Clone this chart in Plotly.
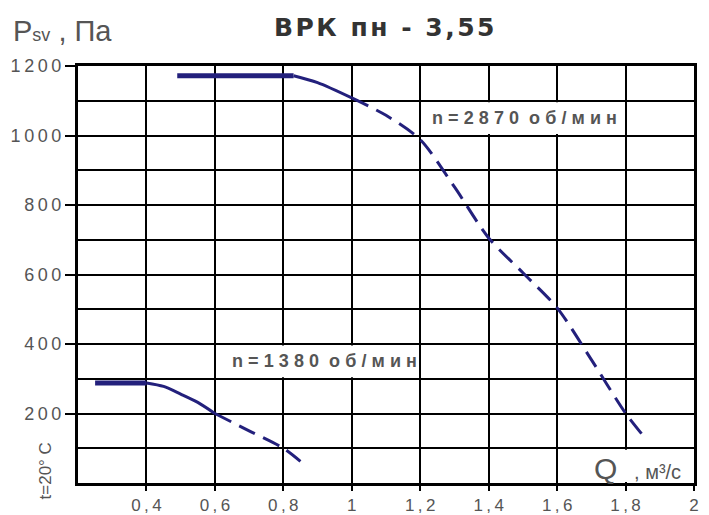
import plotly.graph_objects as go

# ---- data ----
q_hi_flat = [0.49, 0.83]
p_hi_flat = [1172, 1172]
q_hi_solid = [0.83, 0.9, 1.0]
p_hi_solid = [1172, 1152, 1108]
q_hi_dash = [1.0, 1.1, 1.2, 1.3, 1.4, 1.5, 1.6, 1.7, 1.8, 1.85]
p_hi_dash = [1108, 1058, 988, 852, 705, 605, 504, 355, 201, 138]

q_lo_flat = [0.25, 0.40]
p_lo_flat = [288, 288]
q_lo_solid = [0.40, 0.45, 0.5, 0.55, 0.6]
p_lo_solid = [288, 278, 256, 232, 200]
q_lo_dash = [0.6, 0.7, 0.8, 0.85]
p_lo_dash = [200, 150, 100, 62]

x_tickvals = [0.4, 0.6, 0.8, 1.0, 1.2, 1.4, 1.6, 1.8, 2.0]
x_ticktext = ["0,4", "0,6", "0,8", "1", "1,2", "1,4", "1,6", "1,8", "2"]
y_tickvals = [200, 400, 600, 800, 1000, 1200]
y_ticktext = ["200", "400", "600", "800", "1000", "1200"]

line_color = "#23207c"
grey = "#555555"
TS = "\u2009"  # thin space, used as letter spacing
HS = "\u200a"  # hair space


def spaced(s, gap=TS):
    return gap.join(s)


fig = go.Figure()
for qx, py, w, dash in [
    (q_hi_flat, p_hi_flat, 5, "solid"),
    (q_hi_solid, p_hi_solid, 3, "solid"),
    (q_hi_dash, p_hi_dash, 3, "18px,9px"),
    (q_lo_flat, p_lo_flat, 5, "solid"),
    (q_lo_solid, p_lo_solid, 3, "solid"),
    (q_lo_dash, p_lo_dash, 3, "18px,9px"),
]:
    fig.add_trace(go.Scatter(x=qx, y=py, mode="lines",
                             line=dict(color=line_color, width=w, dash=dash,
                                       shape="spline", smoothing=0.8),
                             showlegend=False, hoverinfo="skip"))

fig.update_layout(
    width=709, height=515,
    margin=dict(l=78, r=15, t=66, b=32),
    paper_bgcolor="white", plot_bgcolor="white",
    font=dict(family="Arial, Liberation Sans, sans-serif", color=grey),
    xaxis=dict(range=[0.2, 2.0], tickvals=x_tickvals,
               ticktext=[spaced(t) for t in x_ticktext], automargin=False,
               showgrid=True, gridcolor="black", gridwidth=2,
               showline=True, linecolor="black", linewidth=3, mirror=True,
               ticks="outside", ticklen=5, tickcolor="black", tickwidth=2,
               tickfont=dict(size=17, color=grey), zeroline=False),
    yaxis=dict(range=[0, 1200], tickvals=y_tickvals,
               ticktext=[spaced(t) for t in y_ticktext], automargin=False,
               showgrid=True, gridcolor="black", gridwidth=2,
               minor=dict(dtick=100, showgrid=True, gridcolor="black", gridwidth=2),
               showline=True, linecolor="black", linewidth=3, mirror=True,
               ticks="outside", ticklen=10, tickcolor="black", tickwidth=2,
               tickfont=dict(size=18, color=grey), zeroline=False),
)

# white label cells (above grid, below curves)
for x0, x1, y0, y1 in [(1.205, 1.795, 1004, 1096), (0.605, 1.195, 304, 396), (1.605, 1.995, 3, 96)]:
    fig.add_shape(type="rect", x0=x0, x1=x1, y0=y0, y1=y1, layer="between",
                  fillcolor="white", line=dict(width=0))

fig.add_annotation(x=0.497, y=1.092, xref="paper", yref="paper",
                   xanchor="center", yanchor="middle",
                   text="<b>" + spaced("ВРК пн - 3,55", HS) + "</b>", showarrow=False,
                   font=dict(family="DejaVu Sans, Arial, sans-serif", size=25, color="#333333"))
fig.add_annotation(x=-0.108, y=1.085, xref="paper", yref="paper", xanchor="left", yanchor="middle",
                   text="P<span style='font-size:18px'>sv</span> , Па", showarrow=False,
                   font=dict(size=29, color=grey))

gap2 = TS + HS
fig.add_annotation(x=1.506, y=1050, xanchor="center", yanchor="middle",
                   text="<b>" + spaced("n=2870", gap2) + "  " + spaced("об/мин", gap2) + "</b>",
                   showarrow=False, font=dict(size=18, color=grey))
fig.add_annotation(x=0.92, y=350, xanchor="center", yanchor="middle",
                   text="<b>" + spaced("n=1380", gap2) + "  " + spaced("об/мин", gap2) + "</b>",
                   showarrow=False, font=dict(size=18, color=grey))
fig.add_annotation(x=1.968, y=42, xanchor="right", yanchor="middle",
                   text="Q  <span style='font-size:20px'>, м³/с</span>", showarrow=False,
                   font=dict(size=30, color=grey))
fig.add_annotation(x=-0.052, y=0.03, xref="paper", yref="paper",
                   xanchor="center", yanchor="middle",
                   text="t=20° C", textangle=-90, showarrow=False,
                   font=dict(size=17, color=grey))

fig.write_html("out.html", config={"displayModeBar": False},
               post_script="document.body.style.margin='0';")
